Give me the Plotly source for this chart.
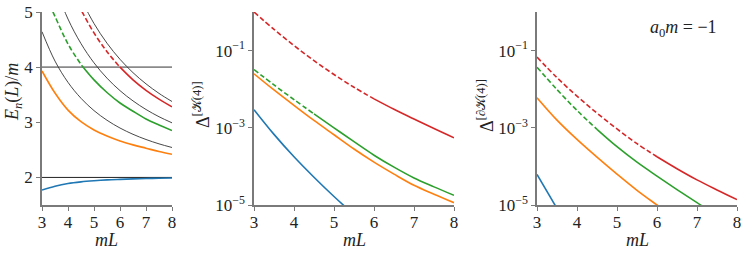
import plotly.graph_objects as go

W, H = 748, 255

# ---------------- data ----------------
mL = [3.0, 3.5, 4.0, 4.5, 5.0, 5.5, 6.0, 6.5, 7.0, 7.5, 8.0]

# Panel 1: energy levels E_n(L)/m
E_free1 = [4.642, 4.110, 3.724, 3.435, 3.212, 3.037, 2.896, 2.782, 2.688, 2.609, 2.543]
mL_free2 = [3.5, 4.0, 4.5, 5.0, 5.5, 6.0, 6.5, 7.0, 7.5, 8.0]
E_free2 = [5.457, 4.872, 4.427, 4.078, 3.800, 3.574, 3.388, 3.232, 3.101, 2.990]
mL_free3 = [4.5, 5.0, 5.5, 6.0, 6.5, 7.0, 7.5, 8.0]
E_free3 = [5.234, 4.791, 4.434, 4.142, 3.900, 3.697, 3.524, 3.377]
thresholds = [2.0, 4.0]

E_blue = [1.77, 1.84, 1.89, 1.92, 1.94, 1.955, 1.965, 1.973, 1.98, 1.985, 1.99]
E_orange = [3.93, 3.53, 3.22, 3.01, 2.86, 2.75, 2.66, 2.59, 2.53, 2.47, 2.42]
mL_green_dash = [3.3, 3.5, 4.0, 4.5, 4.6]
E_green_dash = [5.13, 4.92, 4.42, 4.05, 3.99]
mL_green_solid = [4.6, 5.0, 5.5, 6.0, 6.5, 7.0, 7.5, 8.0]
E_green_solid = [3.99, 3.77, 3.54, 3.35, 3.20, 3.06, 2.95, 2.85]
mL_red_dash = [4.4, 4.5, 5.0, 5.5, 6.0]
E_red_dash = [5.13, 5.04, 4.62, 4.28, 4.00]
mL_red_solid = [6.0, 6.5, 7.0, 7.5, 8.0]
E_red_solid = [4.00, 3.77, 3.58, 3.42, 3.28]

# Panel 2: log10 Delta^[K(4)]
p2_blue = [-2.53, -3.17, -3.75, -4.28, -4.78, -5.25]
p2_orange = [-1.60, -2.02, -2.42, -2.81, -3.18, -3.55, -3.89, -4.20, -4.49, -4.72, -4.94]
p2_green = [-1.49, -1.89, -2.27, -2.64, -3.00, -3.36, -3.71, -4.02, -4.30, -4.53, -4.75]
p2_red = [0.00, -0.45, -0.87, -1.26, -1.62, -1.95, -2.25, -2.52, -2.77, -3.02, -3.26]

# Panel 3: log10 Delta^[dK(4)]
p3_blue = [-4.21, -5.09]
p3_orange = [-2.22, -2.80, -3.30, -3.76, -4.20, -4.62, -5.00, -5.37]
p3_green = [-1.43, -2.01, -2.55, -3.04, -3.49, -3.89, -4.25, -4.60, -4.94, -5.27]
p3_red = [-1.17, -1.70, -2.18, -2.62, -3.03, -3.41, -3.75, -4.06, -4.35, -4.61, -4.86]

green_split = 4.5   # above 4m threshold -> dashed
red_split = 6.0

x_ticks = [3, 4, 5, 6, 7, 8]
E_ticks = [2, 3, 4, 5]
log_tickvals = [1e-5, 1e-3, 1e-1]
log_ticktext = ["10<sup>−5</sup>", "10<sup>−3</sup>", "10<sup>−1</sup>"]

# ---------------- style ----------------
BLUE, ORANGE, GREEN, RED = "#1f77b4", "#ff7f0e", "#2ca02c", "#d62728"
LW = 1.6
DASH = "5px,2.6px"
FONT = "Liberation Serif, DejaVu Serif, serif"
AX = "#7a7a7a"

fig = go.Figure()


def add(x, y, color, xa, ya, width=LW, dash="solid", shape="spline"):
    fig.add_trace(go.Scatter(x=x, y=y, mode="lines", xaxis=xa, yaxis=ya,
                             line=dict(color=color, width=width, dash=dash, shape=shape),
                             showlegend=False, hoverinfo="skip"))


# panel 1
add([mL[0], mL[-1]], [thresholds[1]] * 2, "#8a8a8a", "x", "y", width=1.6, shape="linear")
add([mL[0], mL[-1]], [thresholds[0]] * 2, "#222222", "x", "y", width=1.0, shape="linear")
add(mL, E_free1, "#333333", "x", "y", width=0.9)
add(mL_free2, E_free2, "#333333", "x", "y", width=0.9)
add(mL_free3, E_free3, "#333333", "x", "y", width=0.9)
add(mL, E_blue, BLUE, "x", "y")
add(mL, E_orange, ORANGE, "x", "y")
add(mL_green_dash, E_green_dash, GREEN, "x", "y", dash=DASH)
add(mL_green_solid, E_green_solid, GREEN, "x", "y")
add(mL_red_dash, E_red_dash, RED, "x", "y", dash=DASH)
add(mL_red_solid, E_red_solid, RED, "x", "y")


def log_panel(blue, orange, green, red, xa, ya):
    add(mL[:len(blue)], [10 ** v for v in blue], BLUE, xa, ya)
    add(mL[:len(orange)], [10 ** v for v in orange], ORANGE, xa, ya)
    for vals, color, split in ((green, GREEN, green_split), (red, RED, red_split)):
        xs = mL[:len(vals)]
        ys = [10 ** v for v in vals]
        xd = [a for a in xs if a <= split]
        yd = ys[:len(xd)]
        xs_ = [a for a in xs if a >= split]
        ys_ = ys[len(xs) - len(xs_):]
        add(xd, yd, color, xa, ya, dash=DASH)
        add(xs_, ys_, color, xa, ya)


log_panel(p2_blue, p2_orange, p2_green, p2_red, "x2", "y2")
log_panel(p3_blue, p3_orange, p3_green, p3_red, "x3", "y3")


def px(v):
    return v / W


def py(v):
    return 1 - v / H


ybot, ytop = py(205), py(12)
axis_common = dict(showline=True, linecolor=AX, linewidth=1.5, ticks="outside",
                   ticklen=4, tickwidth=1.2, tickcolor=AX, showgrid=False, zeroline=False,
                   automargin=False,
                   tickfont=dict(family=FONT, size=17, color="#222"), mirror=False)
xcommon = dict(axis_common, ticklabelstandoff=-3)

fig.update_layout(
    template="none",
    width=W, height=H, autosize=False,
    margin=dict(l=0, r=0, t=0, b=0, pad=0),
    paper_bgcolor="white", plot_bgcolor="white",
    font=dict(family=FONT, color="#222"),
    xaxis=dict(domain=[px(42), px(172)], range=[3, 8], tickvals=x_ticks, anchor="y", **xcommon),
    yaxis=dict(domain=[ybot, ytop], range=[1.5, 5], tickvals=E_ticks, anchor="x", **axis_common),
    xaxis2=dict(domain=[px(254), px(454)], range=[3, 8], tickvals=x_ticks, anchor="y2", **xcommon),
    yaxis2=dict(domain=[ybot, ytop], type="log", range=[-5, 0], tickvals=log_tickvals,
                ticktext=log_ticktext, anchor="x2", **axis_common),
    xaxis3=dict(domain=[px(537), px(737)], range=[3, 8], tickvals=x_ticks, anchor="y3", **xcommon),
    yaxis3=dict(domain=[ybot, ytop], type="log", range=[-5, 0], tickvals=log_tickvals,
                ticktext=log_ticktext, anchor="x3", **axis_common),
)

lab = dict(family=FONT, size=18, color="#222")
annots = [
    (107, 240, "<i>mL</i>", 0),
    (354, 240, "<i>mL</i>", 0),
    (637, 240, "<i>mL</i>", 0),
    (13, 92, "<i>E<sub>n</sub></i>(<i>L</i>)/<i>m</i>", -90),
    (201, 105, "Δ<sup>[𝒦(4)]</sup>", -90),
    (485, 106, "Δ<sup>[∂𝒦(4)]</sup>", -90),
    (683, 28, "<i>a</i><sub>0</sub><i>m</i> = −1", 0),
]
for x, y, t, ang in annots:
    fig.add_annotation(x=px(x), y=py(y), xref="paper", yref="paper", text=t,
                       showarrow=False, textangle=ang, font=lab,
                       xanchor="center", yanchor="middle")

fig.write_html("out.html", config={"displayModeBar": False},
               post_script="document.body.style.margin='0';document.body.style.overflow='hidden';")
